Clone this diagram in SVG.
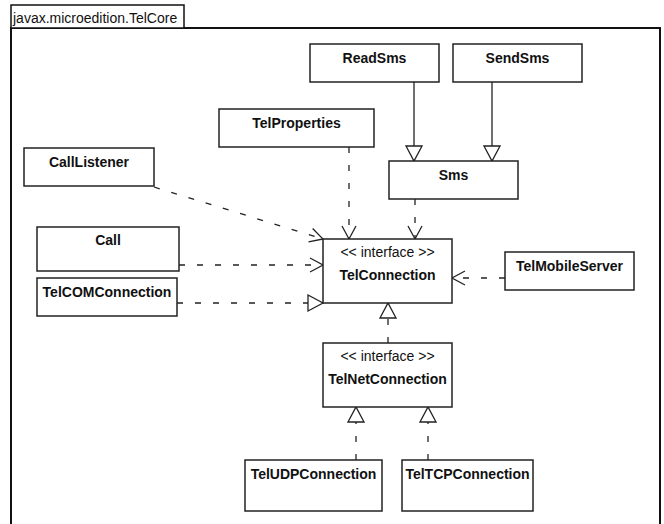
<svg xmlns="http://www.w3.org/2000/svg" width="664" height="524" viewBox="0 0 664 524">
<defs>
<style>
.box{fill:#fff;stroke:#222;stroke-width:1.5}
.frame{fill:none;stroke:#111;stroke-width:2}
.t{font-family:"Liberation Sans",Arial,sans-serif;font-size:14px;fill:#111}
.b{font-weight:bold;text-anchor:middle}
.s{text-anchor:middle}
.dash{fill:none;stroke:#222;stroke-width:1.3;stroke-dasharray:6,12}
.solid{fill:none;stroke:#222;stroke-width:1.3}
</style>
<marker id="open" markerUnits="userSpaceOnUse" markerWidth="16" markerHeight="16" refX="13" refY="7" orient="auto" overflow="visible">
<path d="M0,0 L13,7 L0,14" fill="none" stroke="#222" stroke-width="1.3"/>
</marker>
<marker id="tri" markerUnits="userSpaceOnUse" markerWidth="18" markerHeight="18" refX="15" refY="8" orient="auto" overflow="visible">
<path d="M0,0 L15,8 L0,16 Z" fill="#fff" stroke="#222" stroke-width="1.3"/>
</marker>
</defs>
<rect x="0" y="0" width="664" height="524" fill="#fff"/>
<g id="package">
<path class="frame" d="M11,530 V28 H660 V530"/>
<rect x="11" y="5" width="173" height="23" fill="#fff" stroke="#111" stroke-width="1.5"/>
<text class="t" x="13" y="23">javax.microedition.TelCore</text>
</g>
<g id="connectors">
<path class="solid" d="M414,82 V161" marker-end="url(#tri)"/>
<path class="solid" d="M492,82 V161" marker-end="url(#tri)"/>
<path class="dash" d="M415,199 V239" marker-end="url(#open)"/>
<path class="dash" d="M349,147 V239" marker-end="url(#open)"/>
<path class="dash" d="M154,187 L323,239" marker-end="url(#open)"/>
<path class="dash" d="M179,265 H323" marker-end="url(#open)"/>
<path class="dash" d="M177,303 H323" marker-end="url(#tri)"/>
<path class="dash" d="M505,278 H452" marker-end="url(#open)"/>
<path class="dash" d="M388,343 V303" marker-end="url(#tri)"/>
<path class="dash" d="M356,460 V407" marker-end="url(#tri)"/>
<path class="dash" d="M428,460 V407" marker-end="url(#tri)"/>
</g>
<g id="ReadSms"><rect class="box" x="310" y="44" width="129" height="38"/><text class="t b" x="374.5" y="63">ReadSms</text></g>
<g id="SendSms"><rect class="box" x="453" y="44" width="129" height="38"/><text class="t b" x="517.5" y="63">SendSms</text></g>
<g id="TelProperties"><rect class="box" x="219" y="109" width="155" height="38"/><text class="t b" x="296.5" y="128">TelProperties</text></g>
<g id="Sms"><rect class="box" x="389" y="161" width="129" height="38"/><text class="t b" x="453.5" y="180">Sms</text></g>
<g id="CallListener"><rect class="box" x="24" y="148" width="130" height="38"/><text class="t b" x="89" y="167">CallListener</text></g>
<g id="Call"><rect class="box" x="37" y="227" width="142" height="44"/><text class="t b" x="108" y="245">Call</text></g>
<g id="TelCOMConnection"><rect class="box" x="37" y="278" width="140" height="38"/><text class="t b" x="107" y="297">TelCOMConnection</text></g>
<g id="TelConnection"><rect class="box" x="323" y="239" width="129" height="64"/><text class="t s" x="387.5" y="257">&lt;&lt; interface &gt;&gt;</text><text class="t b" x="387.5" y="280">TelConnection</text></g>
<g id="TelMobileServer"><rect class="box" x="505" y="252" width="129" height="38"/><text class="t b" x="569.5" y="271">TelMobileServer</text></g>
<g id="TelNetConnection"><rect class="box" x="323" y="343" width="129" height="64"/><text class="t s" x="387.5" y="361">&lt;&lt; interface &gt;&gt;</text><text class="t b" x="387.5" y="384">TelNetConnection</text></g>
<g id="TelUDPConnection"><rect class="box" x="245" y="460" width="137" height="51"/><text class="t b" x="313.5" y="479">TelUDPConnection</text></g>
<g id="TelTCPConnection"><rect class="box" x="402" y="460" width="131" height="51"/><text class="t b" x="467.5" y="479">TelTCPConnection</text></g>
</svg>
